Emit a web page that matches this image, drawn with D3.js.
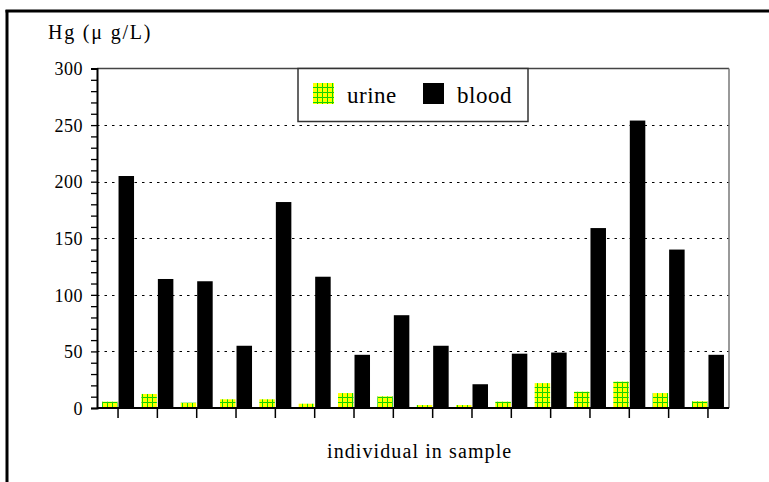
<!DOCTYPE html>
<html>
<head>
<meta charset="utf-8">
<script src="https://cdn.jsdelivr.net/npm/d3@7/dist/d3.min.js"></script>
<style>
  html, body { margin: 0; padding: 0; background: #fff; }
  svg { display: block; }
  svg text { font-family: "Liberation Serif", "Times New Roman", serif; fill: #000; }
</style>
</head>
<body>
<svg id="chart" width="769" height="482"></svg>
<script>
// ---- data ----
const individuals = d3.range(1, 17).map(String);
const urine = [5.6, 12.4, 4.7, 7.7, 7.7, 3.8, 13.2, 10.3, 2.6, 2.6, 5.6, 22, 14.4, 23.3, 13.2, 5.9];
const blood = [205, 114, 112, 55, 182, 116, 47, 82, 55, 21, 48, 49, 159, 254, 140, 47];
const yTicks = [0, 50, 100, 150, 200, 250, 300];
const seriesNames = ["urine", "blood"];
const yTitle = "Hg (\u03bc g/L)";
const xTitle = "individual in sample";

// ---- layout ----
const svg = d3.select("#chart");
const L = 97, R = 729, T = 68.5, B = 408;

const x = d3.scaleBand().domain(individuals).range([L, R]).paddingInner(0).paddingOuter(0.035);
const y = d3.scaleLinear().domain([0, 300]).range([B, T]);

// pattern for urine
const defs = svg.append("defs");
const pat = defs.append("pattern").attr("id", "urinePat").attr("patternUnits", "userSpaceOnUse")
  .attr("width", 5).attr("height", 5);
pat.append("rect").attr("width", 5).attr("height", 5).attr("fill", "#ffff00");
pat.append("rect").attr("x", 2).attr("y", 0).attr("width", 1).attr("height", 5).attr("fill", "#00e000");
pat.append("rect").attr("x", 0).attr("y", 2).attr("width", 5).attr("height", 1).attr("fill", "#00e000");
pat.append("rect").attr("x", 2).attr("y", 2).attr("width", 1).attr("height", 1).attr("fill", "#6a9a00");

// outer frame (left and top)
svg.append("line").attr("x1", 7).attr("x2", 7).attr("y1", 10).attr("y2", 482).attr("stroke", "#000").attr("stroke-width", 3);
svg.append("line").attr("x1", 5.5).attr("x2", 769).attr("y1", 11).attr("y2", 11).attr("stroke", "#000").attr("stroke-width", 3);

// gridlines
svg.append("g").selectAll("line").data(yTicks.filter(d => d > 0 && d < 300)).join("line")
  .attr("x1", L).attr("x2", R).attr("y1", d => Math.round(y(d)) + 0.5).attr("y2", d => Math.round(y(d)) + 0.5)
  .attr("stroke", "#000").attr("stroke-width", 1.2).attr("stroke-dasharray", "2.5,5");

// plot border top & right
svg.append("line").attr("x1", L).attr("x2", R).attr("y1", T).attr("y2", T).attr("stroke", "#444").attr("stroke-width", 1.5);
svg.append("line").attr("x1", R).attr("x2", R).attr("y1", T).attr("y2", B).attr("stroke", "#777").attr("stroke-width", 1.5);

// bars
const bw = 15.5;
const cx = d => x(d) + x.bandwidth() / 2;
svg.append("g").selectAll("rect").data(individuals).join("rect")
  .attr("x", (d) => cx(d) - bw - 0.5)
  .attr("y", (d, i) => y(urine[i]))
  .attr("width", bw)
  .attr("height", (d, i) => B - y(urine[i]))
  .attr("fill", "url(#urinePat)");
svg.append("g").selectAll("rect").data(individuals).join("rect")
  .attr("x", (d) => cx(d) + 0.5)
  .attr("y", (d, i) => y(blood[i]))
  .attr("width", bw)
  .attr("height", (d, i) => B - y(blood[i]))
  .attr("fill", "#000");

// y axis
const yAxis = d3.axisLeft(y).tickValues(d3.range(0, 301, 10)).tickSize(6)
  .tickFormat(d => yTicks.includes(d) ? d : "");
const gy = svg.append("g").attr("transform", `translate(${L},0)`).call(yAxis);
gy.attr("font-family", null);
gy.select(".domain").attr("stroke", "#000").attr("stroke-width", 2);
gy.selectAll(".tick line").attr("stroke", "#000").attr("stroke-width", 1.3);
gy.selectAll(".tick text").attr("x", -14).attr("dy", "0.35em")
  .style("font-size", "18px").style("letter-spacing", "0.5px").attr("fill", "#000");

// x axis
const xAxis = d3.axisBottom(x).tickSize(10).tickFormat("");
const gx = svg.append("g").attr("transform", `translate(0,${B})`).call(xAxis);
gx.select(".domain").attr("stroke", "#000").attr("stroke-width", 2).attr("d", `M${L},0H${R}`);
gx.selectAll(".tick line").attr("stroke", "#000").attr("stroke-width", 1.5);

// titles
svg.append("text").attr("x", 48).attr("y", 39).style("font-size", "20px").style("letter-spacing", "1.8px").text(yTitle);
svg.append("text").attr("x", 327).attr("y", 458).style("font-size", "20px").style("letter-spacing", "1.1px").text(xTitle);

// legend
const lg = svg.append("g");
lg.append("rect").attr("x", 298).attr("y", T).attr("width", 230).attr("height", 53)
  .attr("fill", "#fff").attr("stroke", "#333").attr("stroke-width", 1.5);
const legendX = [313, 423];
const legendFill = ["url(#urinePat)", "#000"];
seriesNames.forEach((name, i) => {
  lg.append("rect").attr("x", legendX[i]).attr("y", 83).attr("width", 21).attr("height", 21).attr("fill", legendFill[i]);
  lg.append("text").attr("x", legendX[i] + 34).attr("y", 103).style("font-size", "23px").style("letter-spacing", "0.5px").text(name);
});
</script>
</body>
</html>
